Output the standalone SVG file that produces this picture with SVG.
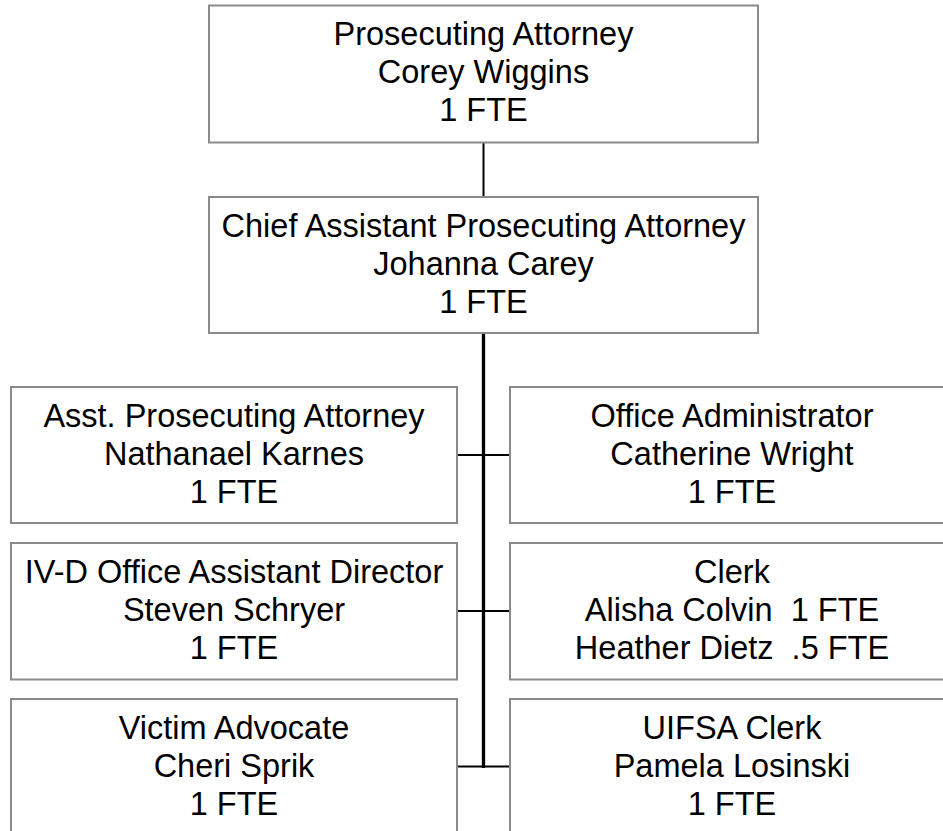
<svg xmlns="http://www.w3.org/2000/svg" width="943" height="831" viewBox="0 0 943 831">
<style>
.box{fill:#fff;stroke:#8a8a8a;stroke-width:2}
.t{font-family:"Liberation Sans",Arial,sans-serif;font-size:32.5px;fill:#000;text-anchor:middle;white-space:pre}
.c{stroke:#000;fill:none}
</style>
<rect width="943" height="831" fill="#fff"/>
<g id="connectors">
<line class="c" x1="483.5" y1="142" x2="483.5" y2="197" stroke-width="2"/>
<line class="c" x1="483.5" y1="333" x2="483.5" y2="768" stroke-width="3.3"/>
<line class="c" x1="457" y1="455" x2="510" y2="455" stroke-width="2"/>
<line class="c" x1="457" y1="611" x2="510" y2="611" stroke-width="2"/>
<line class="c" x1="457" y1="766.5" x2="510" y2="766.5" stroke-width="2"/>
</g>
<g id="n-prosecuting-attorney">
<rect class="box" x="209" y="5.5" width="549" height="137"/>
<text class="t" x="483.5" y="45">Prosecuting Attorney</text>
<text class="t" x="483.5" y="83">Corey Wiggins</text>
<text class="t" x="483.5" y="121">1 FTE</text>
</g>
<g id="n-chief-assistant">
<rect class="box" x="209" y="197" width="549" height="136"/>
<text class="t" x="483.5" y="237">Chief Assistant Prosecuting Attorney</text>
<text class="t" x="483.5" y="275">Johanna Carey</text>
<text class="t" x="483.5" y="313">1 FTE</text>
</g>
<g id="n-asst-prosecuting">
<rect class="box" x="11" y="387" width="446" height="136"/>
<text class="t" x="234" y="427">Asst. Prosecuting Attorney</text>
<text class="t" x="234" y="465">Nathanael Karnes</text>
<text class="t" x="234" y="503">1 FTE</text>
</g>
<g id="n-office-admin">
<rect class="box" x="510" y="387" width="446" height="136"/>
<text class="t" x="732" y="427">Office Administrator</text>
<text class="t" x="732" y="465">Catherine Wright</text>
<text class="t" x="732" y="503">1 FTE</text>
</g>
<g id="n-ivd-director">
<rect class="box" x="11" y="543" width="446" height="136.5"/>
<text class="t" x="234" y="583">IV-D Office Assistant Director</text>
<text class="t" x="234" y="621">Steven Schryer</text>
<text class="t" x="234" y="659">1 FTE</text>
</g>
<g id="n-clerk">
<rect class="box" x="510" y="543" width="446" height="136.5"/>
<text class="t" x="732" y="583">Clerk</text>
<text class="t" x="732" y="621">Alisha Colvin  1 FTE</text>
<text class="t" x="732" y="659">Heather Dietz  .5 FTE</text>
</g>
<g id="n-victim-advocate">
<rect class="box" x="11" y="699" width="446" height="136"/>
<text class="t" x="234" y="739">Victim Advocate</text>
<text class="t" x="234" y="777">Cheri Sprik</text>
<text class="t" x="234" y="815">1 FTE</text>
</g>
<g id="n-uifsa-clerk">
<rect class="box" x="510" y="699" width="446" height="136"/>
<text class="t" x="732" y="739">UIFSA Clerk</text>
<text class="t" x="732" y="777">Pamela Losinski</text>
<text class="t" x="732" y="815">1 FTE</text>
</g>
</svg>
